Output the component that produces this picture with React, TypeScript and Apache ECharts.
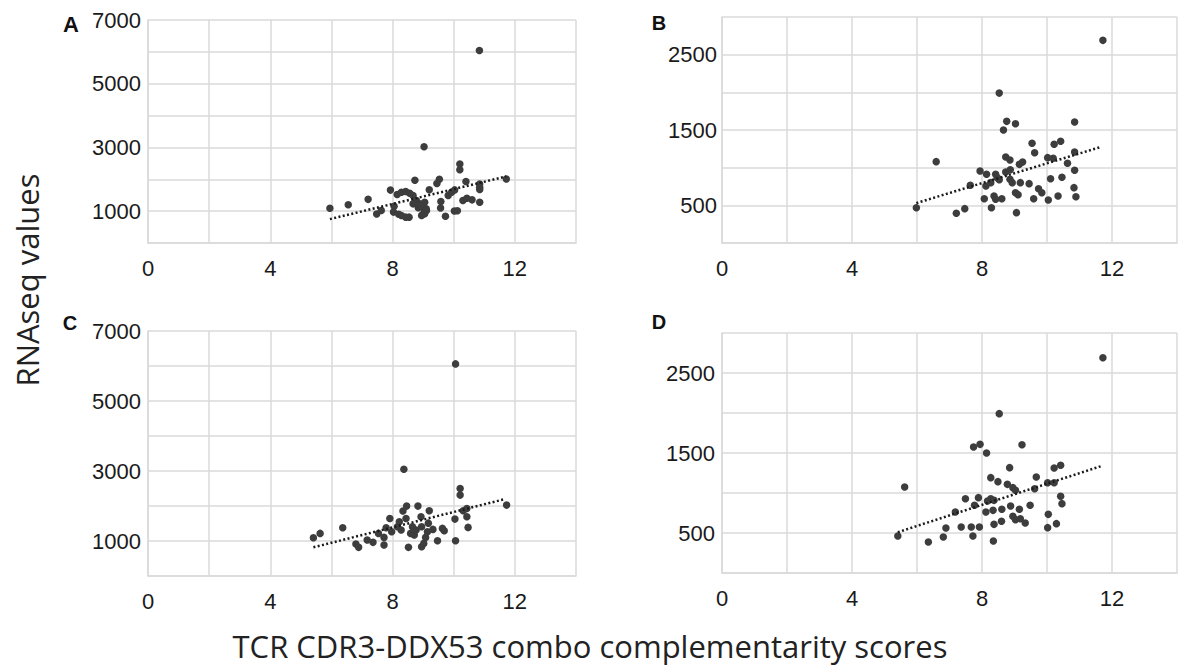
import React, { useEffect, useRef } from "react";
import * as echarts from "echarts";

// Panel A (top-left): scores vs RNAseq values
const aX = [5.95, 6.55, 7.2, 7.48, 7.63, 7.93, 8.05, 8.03, 8.15, 8.29, 8.43, 8.56, 8.67, 8.78, 8.89, 9.0, 9.05, 8.2, 8.29, 8.43, 8.54, 8.73, 9.03, 10.84, 9.0, 9.1, 9.2, 9.45, 9.53, 9.58, 9.57, 9.73, 9.82, 9.93, 10.03, 10.02, 10.12, 10.2, 10.2, 10.3, 10.43, 10.6, 10.85, 10.4, 10.85, 10.85, 10.85, 11.72, 8.67, 8.84, 8.92, 9.11, 9.05, 8.95];
const aY = [1090, 1200, 1370, 910, 1020, 1660, 1150, 970, 1520, 1594, 1615, 1563, 1490, 1333, 1229, 1104, 1281, 900, 865, 812, 812, 1970, 3020, 6040, 910, 1073, 1670, 1870, 2000, 1300, 1100, 840, 1490, 1594, 1667, 1005, 1015, 2480, 2300, 1333, 1406, 1354, 1281, 1930, 1854, 1750, 1677, 2010, 1229, 1104, 1177, 1020, 917, 865];
const aTrendX = [5.95, 11.72];
const aTrendY = [750, 2090];

// Panel B (top-right)
const bX = [8.53, 8.76, 9.03, 8.66, 10.85, 9.54, 9.62, 10.22, 10.42, 10.85, 6.59, 8.73, 8.86, 9.15, 9.25, 10.02, 10.19, 10.63, 10.85, 7.94, 8.14, 8.42, 8.47, 8.73, 8.12, 8.27, 8.86, 8.93, 9.18, 9.45, 7.64, 9.03, 9.11, 9.74, 9.84, 10.11, 10.46, 10.83, 8.07, 8.37, 8.42, 8.61, 9.59, 10.04, 10.34, 10.89, 7.21, 7.47, 8.29, 9.06, 5.98, 11.72, 8.53, 8.87];
const bY = [1990, 1615, 1584, 1500, 1606, 1323, 1199, 1310, 1350, 1208, 1080, 1142, 1102, 1044, 1075, 1133, 1124, 1058, 965, 956, 912, 912, 867, 942, 757, 801, 845, 801, 801, 788, 766, 668, 642, 721, 668, 854, 872, 735, 588, 624, 580, 588, 588, 571, 624, 615, 394, 456, 469, 403, 469, 2690, 840, 973];
const bTrendX = [5.98, 11.66];
const bTrendY = [530, 1275];

// Panel C (bottom-left)
const cX = [5.41, 5.63, 6.37, 6.8, 6.89, 7.17, 7.36, 7.54, 7.72, 7.72, 7.79, 7.91, 7.97, 8.16, 8.22, 8.28, 8.34, 8.46, 8.44, 8.52, 8.59, 8.65, 8.71, 8.77, 8.83, 8.93, 8.95, 8.95, 9.02, 9.08, 9.14, 9.2, 9.32, 9.47, 9.63, 9.69, 10.04, 10.06, 10.21, 10.21, 10.31, 10.43, 10.43, 10.47, 11.73, 10.06, 8.37, 9.17];
const cY = [1094, 1217, 1379, 913, 818, 1027, 961, 1217, 1103, 884, 1379, 1645, 1265, 1408, 1550, 1312, 1855, 1997, 1645, 818, 1217, 1408, 1170, 1312, 1997, 1693, 1408, 837, 932, 1103, 1265, 1864, 1332, 1008, 1360, 1293, 1626, 1008, 2501, 2311, 1864, 1931, 1693, 1389, 2026, 6060, 3050, 1510];
const cTrendX = [5.41, 11.64];
const cTrendY = [820, 2190];

// Panel D (bottom-right)
const dX = [8.53, 7.74, 7.94, 8.14, 9.23, 8.85, 8.27, 8.49, 8.78, 8.95, 9.03, 9.67, 9.62, 10.02, 10.22, 10.22, 10.42, 5.62, 7.49, 7.89, 8.27, 8.37, 7.77, 8.17, 10.42, 10.46, 7.18, 8.12, 8.34, 8.61, 8.88, 9.15, 9.48, 8.95, 9.03, 9.18, 9.33, 10.04, 6.89, 7.36, 7.67, 7.92, 8.37, 8.6, 10.02, 10.29, 5.41, 6.35, 6.81, 7.72, 8.35, 11.72];
const dY = [1992, 1575, 1608, 1500, 1604, 1317, 1192, 1142, 1108, 1067, 1033, 1200, 1054, 1129, 1129, 1312, 1346, 1075, 929, 942, 929, 908, 846, 900, 958, 867, 762, 762, 783, 796, 838, 796, 846, 708, 667, 679, 625, 733, 563, 575, 575, 575, 608, 646, 567, 617, 463, 388, 450, 463, 400, 2690];
const dTrendX = [5.41, 11.66];
const dTrendY = [510, 1335];

const xTickLabels = [0, 4, 8, 12];
const yTickLabelsBig = [1000, 3000, 5000, 7000];
const yTickLabelsSmall = [500, 1500, 2500];
const panelLetters = ["A", "B", "C", "D"];
const yTitle = "RNAseq values";
const xTitle = "TCR CDR3-DDX53 combo complementarity scores";

const GRID = "#dadada";
const TXT = "#1a1a1a";
const FONT = "Liberation Sans";

function zip(xs: number[], ys: number[]) {
  return xs.map((x, i) => [x, ys[i]]);
}

function xAxisCfg(gridIndex: number) {
  return {
    type: "value",
    gridIndex,
    min: 0,
    max: 14,
    interval: 2,
    axisLine: { show: true, lineStyle: { color: GRID, width: 1.5 } },
    axisTick: { show: false },
    splitLine: { show: true, lineStyle: { color: GRID, width: 1.5 } },
    axisLabel: {
      formatter: (v: number) => (xTickLabels.includes(v) ? String(v) : ""),
      fontSize: 22,
      color: TXT,
      fontFamily: FONT,
      margin: 14,
    },
  };
}

function yAxisCfg(gridIndex: number, max: number, interval: number, labels: number[], margin: number) {
  return {
    type: "value",
    gridIndex,
    min: 0,
    max,
    interval,
    axisLine: { show: true, lineStyle: { color: GRID, width: 1.5 } },
    axisTick: { show: false },
    splitLine: { show: true, lineStyle: { color: GRID, width: 1.5 } },
    axisLabel: {
      formatter: (v: number) => (labels.includes(v) ? String(v) : ""),
      fontSize: 22,
      color: TXT,
      fontFamily: FONT,
      margin,
    },
  };
}

function scatter(i: number, xs: number[], ys: number[]) {
  return {
    type: "scatter",
    xAxisIndex: i,
    yAxisIndex: i,
    data: zip(xs, ys),
    symbolSize: 7.5,
    itemStyle: { color: "#3d3d3d", opacity: 1 },
    z: 3,
  };
}

function trend(i: number, xs: number[], ys: number[]) {
  return {
    type: "line",
    xAxisIndex: i,
    yAxisIndex: i,
    data: zip(xs, ys),
    showSymbol: false,
    symbol: "none",
    lineStyle: { color: "#1a1a1a", width: 2.5, type: [2, 2.4], cap: "butt" },
    z: 4,
  };
}

export default function App() {
  const ref = useRef<HTMLDivElement>(null);
  useEffect(() => {
    const chart = echarts.init(ref.current!, null, { renderer: "svg" });
    const letterStyle = (size: number) => ({
      fontSize: size,
      fontWeight: "bold",
      fontFamily: FONT,
      fill: "#111",
      textAlign: "center",
      textVerticalAlign: "middle",
    });
    const option = {
      animation: false,
      backgroundColor: "#ffffff",
      grid: [
        { left: 148, top: 20, width: 428, height: 223 },
        { left: 722, top: 17, width: 462, height: 226 },
        { left: 148, top: 331, width: 428, height: 245 },
        { left: 722, top: 333, width: 462, height: 240 },
      ],
      xAxis: [xAxisCfg(0), xAxisCfg(1), xAxisCfg(2), xAxisCfg(3)],
      yAxis: [
        yAxisCfg(0, 7000, 1000, yTickLabelsBig, 7),
        yAxisCfg(1, 3000, 500, yTickLabelsSmall, 5),
        yAxisCfg(2, 7000, 1000, yTickLabelsBig, 7),
        yAxisCfg(3, 3000, 500, yTickLabelsSmall, 7),
      ],
      series: [
        scatter(0, aX, aY),
        trend(0, aTrendX, aTrendY),
        scatter(1, bX, bY),
        trend(1, bTrendX, bTrendY),
        scatter(2, cX, cY),
        trend(2, cTrendX, cTrendY),
        scatter(3, dX, dY),
        trend(3, dTrendX, dTrendY),
      ],
      graphic: [
        { type: "text", x: 71, y: 24, style: { text: panelLetters[0], ...letterStyle(22) } },
        { type: "text", x: 659, y: 23, style: { text: panelLetters[1], ...letterStyle(20) } },
        { type: "text", x: 70, y: 323, style: { text: panelLetters[2], ...letterStyle(20) } },
        { type: "text", x: 659, y: 322, style: { text: panelLetters[3], ...letterStyle(20) } },
        {
          type: "text",
          x: 27,
          y: 280,
          rotation: Math.PI / 2,
          style: {
            text: yTitle,
            fontSize: 31,
            fontFamily: "Open Sans",
            fill: "#222",
            textAlign: "center",
            textVerticalAlign: "middle",
          },
        },
        {
          type: "text",
          x: 590,
          y: 646,
          style: {
            text: xTitle,
            fontSize: 31,
            fontFamily: "Open Sans",
            fill: "#222",
            textAlign: "center",
            textVerticalAlign: "middle",
          },
        },
      ],
    };
    chart.setOption(option as any);
    return () => chart.dispose();
  }, []);
  return (
    <div
      ref={ref}
      style={{ position: "fixed", left: 0, top: 0, width: 1180, height: 668, background: "#fff" }}
    />
  );
}
